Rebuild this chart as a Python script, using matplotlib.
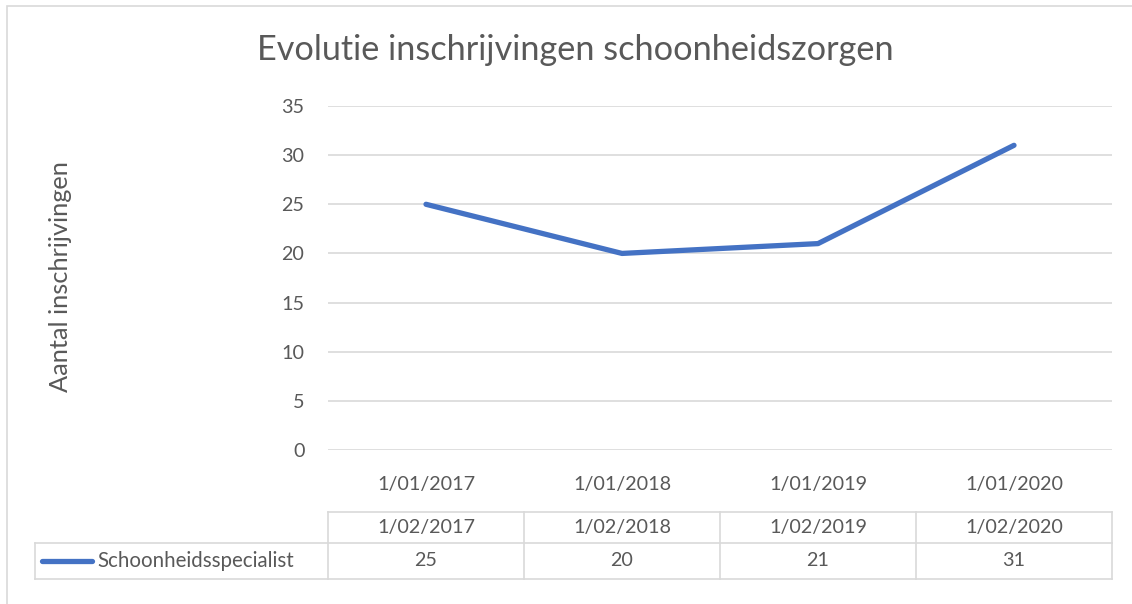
import matplotlib
matplotlib.use("Agg")
import matplotlib.pyplot as plt
import matplotlib.transforms as mtransforms
from matplotlib.patches import Rectangle

# ─── données ─────────────────────────────────────────────
TITRE = "Evolutie inschrijvingen schoonheidszorgen"
Y_LABEL = "Aantal inschrijvingen"
CATEGORIES = ["1/01/2017", "1/01/2018", "1/01/2019", "1/01/2020"]
SOUS_CATEGORIES = ["1/02/2017", "1/02/2018", "1/02/2019", "1/02/2020"]
SERIE_NOM = "Schoonheidsspecialist"
VALEURS = [25, 20, 21, 31]
Y_TICKS = [0, 5, 10, 15, 20, 25, 30, 35]

BLEU = "#4472C4"
GRIS_TXT = "#595959"
GRIS_LIGNE = "#D9D9D9"
POLICE = "Lato"
TAILLE = 14.2

W, H = 1132, 604
fig = plt.figure(figsize=(W / 100, H / 100), dpi=100)
fig.patch.set_facecolor("white")

# cadre du graphique (coupé à droite et en bas)
fig.patches.append(Rectangle((7 / W, -0.1), 1.2, 1 - 6 / H + 0.1,
                             transform=fig.transFigure, fill=False,
                             edgecolor=GRIS_LIGNE, linewidth=1.2))

ax = fig.add_axes([328 / W, 1 - 450 / H, 784 / W, 344 / H])
x = list(range(len(CATEGORIES)))
ax.plot(x, VALEURS, color=BLEU, linewidth=3.8, solid_capstyle="round", zorder=3)

ax.set_xlim(-0.5, len(CATEGORIES) - 0.5)
ax.set_ylim(0, 35)
ax.set_yticks(Y_TICKS)
ax.set_xticks(x)
ax.set_xticklabels(CATEGORIES)
for s in ax.spines.values():
    s.set_visible(False)
ax.yaxis.grid(True, color=GRIS_LIGNE, linewidth=1.2)
ax.set_axisbelow(True)
ax.tick_params(length=0, labelsize=TAILLE, colors=GRIS_TXT)
ax.tick_params(axis="y", pad=17)
ax.tick_params(axis="x", pad=19)
for lbl in ax.get_xticklabels() + ax.get_yticklabels():
    lbl.set_fontfamily(POLICE)

fig.text(575 / W, 1 - 50 / H, TITRE, ha="center", va="center",
         fontsize=24.7, color=GRIS_TXT, family=POLICE)
fig.text(61 / W, 1 - 277 / H, Y_LABEL, rotation=90, ha="center", va="center",
         fontsize=18.3, color=GRIS_TXT, family=POLICE)

# ─── tableau de données ──────────────────────────────────
tr = mtransforms.blended_transform_factory(ax.transData, ax.transAxes)
y_haut = (450 - 512) / 344
y_mil = (450 - 543) / 344
y_bas = (450 - 579) / 344
x_gauche = -0.5 + (35 - 328) / 196
x0, x1 = -0.5, len(CATEGORIES) - 0.5

kw = dict(color=GRIS_LIGNE, linewidth=1.2, transform=tr, clip_on=False)
ax.plot([x0, x1], [y_haut, y_haut], **kw)
ax.plot([x_gauche, x1], [y_mil, y_mil], **kw)
ax.plot([x_gauche, x1], [y_bas, y_bas], **kw)
ax.plot([x_gauche, x_gauche], [y_mil, y_bas], **kw)
for i in range(len(CATEGORIES) + 1):
    ax.plot([x0 + i, x0 + i], [y_haut, y_bas], **kw)

for i, (sc, v) in enumerate(zip(SOUS_CATEGORIES, VALEURS)):
    ax.text(i, (y_haut + y_mil) / 2, sc, transform=tr, ha="center", va="center",
            fontsize=TAILLE, color=GRIS_TXT, family=POLICE)
    ax.text(i, (y_mil + y_bas) / 2, str(v), transform=tr, ha="center", va="center",
            fontsize=TAILLE, color=GRIS_TXT, family=POLICE)

# légende dans la première cellule
lx0 = -0.5 + (42 - 328) / 196
lx1 = -0.5 + (92 - 328) / 196
ym = (y_mil + y_bas) / 2
ax.plot([lx0, lx1], [ym, ym], color=BLEU, linewidth=3.8, solid_capstyle="round",
        transform=tr, clip_on=False)
ax.text(lx1 + 0.025, ym, SERIE_NOM, transform=tr, ha="left", va="center",
        fontsize=14.8, color=GRIS_TXT, family=POLICE)

fig.savefig("out.png", dpi=100)
